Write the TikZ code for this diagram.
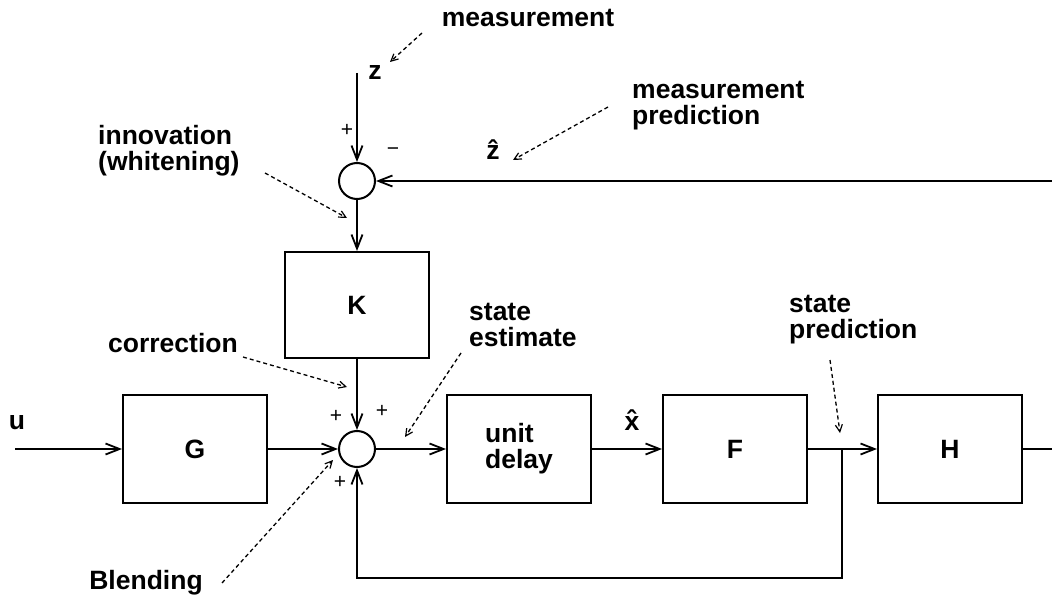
\documentclass[tikz,border=0pt]{standalone}
\usepackage{fontspec}
\setmainfont{Liberation Sans}
\usetikzlibrary{arrows.meta}

\newcommand\lblfont{\fontsize{26.5}{26}\selectfont\bfseries}
\newcommand\signfont{\fontsize{21}{21}\selectfont}

\tikzset{
  blk/.style={draw, line width=2pt, minimum width=144pt, minimum height=108pt,
              inner sep=0pt, font=\lblfont},
  sumc/.style={circle, draw, line width=2pt, minimum size=36pt, inner sep=0pt},
  wire/.style={line width=2pt},
  sig/.style={line width=2pt, -{Straight Barb[length=14pt,width=11pt,line width=1.8pt]}},
  note/.style={line width=1.3pt, dash pattern=on 4pt off 3pt,
               -{Straight Barb[length=7pt,width=7pt,line width=1.2pt]}},
  lbl/.style={font=\lblfont, inner sep=0pt},
  mlbl/.style={font=\lblfont, inner sep=0pt, align=left, anchor=west},
  sgn/.style={font=\signfont, inner sep=0pt},
}

\begin{document}
\begin{tikzpicture}[x=1pt, y=-1pt]
\useasboundingbox (0,0) rectangle (1052,601);

% summing junctions
\node[sumc] (s1) at (357,181) {};
\node[sumc] (s2) at (357,449) {};

% blocks
\node[blk, minimum height=106pt] (K) at (357,305) {K};
\node[blk] (G)  at (195,449) {G};
\node[blk, align=left] (UD) at (519,449) {unit\\delay};
\node[blk] (F)  at (735,449) {F};
\node[blk] (H)  at (950,449) {H};

% free ends of signals
\coordinate (zin)  at (357,73);
\coordinate (zhin) at (1052,181);
\coordinate (uin)  at (15,449);
\coordinate (jn)   at (842,449);
\coordinate (yout) at (1052,449);
\coordinate (fbc)  at (842,578);

% signal flow
\draw[sig] (zin) -- (s1);
\draw[sig] (zhin) -- (s1);
\draw[sig] (s1) -- (K);
\draw[sig] (K) -- (s2);
\draw[sig] (uin) -- (G);
\draw[sig] (G) -- (s2);
\draw[sig] (s2) -- (UD);
\draw[sig] (UD) -- (F);
\draw[sig] (F) -- (H);
\draw[wire] (H) -- (yout);
\draw[sig] (jn) -- (fbc) -| (s2);

% signal names
\node[lbl] (zl)  at (375,73)  {z};
\node[lbl] (zhl) at (493,150) {\^{z}};
\node[lbl] (ul)  at (17,423)  {u};
\node[lbl] (xhl) at (632,420) {\^{x}};

% signs at the junctions
\node[sgn] (p1) at (347,130) {+};
\node[sgn] (m1) at (393,152) {−};
\node[sgn] (p2) at (336,416) {+};
\node[sgn] (p3) at (382,411) {+};
\node[sgn] (p4) at (340,482) {+};

% annotations
\node[lbl]  (tmeas) at (528,18)  {measurement};
\node[mlbl] (tmp)   at (632,106) {measurement\\prediction};
\node[mlbl] (tinn)  at (98,151)  {innovation\\(whitening)};
\node[lbl]  (tcor)  at (173,343) {correction};
\node[mlbl] (tse)   at (469,325) {state\\estimate};
\node[mlbl] (tsp)   at (789,320) {state\\prediction};
\node[lbl]  (tbl)   at (146,583) {Blending};

\coordinate (a1) at (422,33);  \coordinate (b1) at (390,62);
\coordinate (a2) at (608,107); \coordinate (b2) at (513,160);
\coordinate (a3) at (265,173); \coordinate (b3) at (347,218);
\coordinate (a4) at (243,357); \coordinate (b4) at (347,387);
\coordinate (a5) at (461,353); \coordinate (b5) at (405,437);
\coordinate (a6) at (830,360); \coordinate (b6) at (840,433);
\coordinate (a7) at (222,583); \coordinate (b7) at (333,460);

\draw[note] (a1) -- (b1);
\draw[note] (a2) -- (b2);
\draw[note] (a3) -- (b3);
\draw[note] (a4) -- (b4);
\draw[note] (a5) -- (b5);
\draw[note] (a6) -- (b6);
\draw[note] (a7) -- (b7);
\end{tikzpicture}
\end{document}
